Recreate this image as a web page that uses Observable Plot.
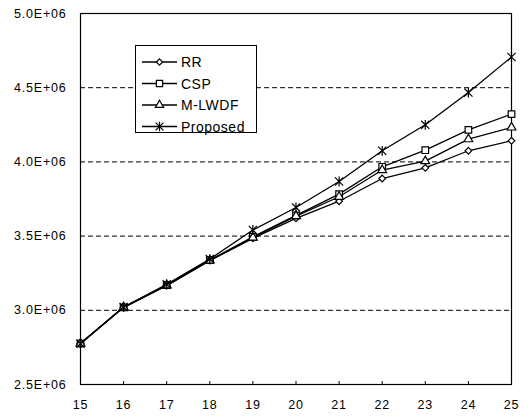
<!DOCTYPE html>
<html>
<head>
<meta charset="utf-8">
<script src="https://cdn.jsdelivr.net/npm/d3@7"></script>
<script src="https://cdn.jsdelivr.net/npm/@observablehq/plot@0.6"></script>
<style>
  html, body { margin: 0; padding: 0; background: #fff; }
  #wrap { position: relative; width: 530px; height: 417px; }
  #legend { position: absolute; left: 135px; top: 45px; width: 122px; height: 88px;
            border: 1px solid #000; background: #fff; box-sizing: border-box; }
</style>
</head>
<body>
<div id="wrap"><div id="legend"></div></div>
<script>
// ---- data ----
const xValues = [15, 16, 17, 18, 19, 20, 21, 22, 23, 24, 25];
const seriesNames = ["RR", "CSP", "M-LWDF", "Proposed"];
const rrValues       = [2.776e6, 3.020e6, 3.166e6, 3.335e6, 3.485e6, 3.620e6, 3.735e6, 3.888e6, 3.960e6, 4.075e6, 4.142e6];
const cspValues      = [2.776e6, 3.020e6, 3.170e6, 3.338e6, 3.495e6, 3.640e6, 3.783e6, 3.967e6, 4.079e6, 4.216e6, 4.322e6];
const mlwdfValues    = [2.776e6, 3.020e6, 3.168e6, 3.336e6, 3.490e6, 3.635e6, 3.765e6, 3.945e6, 4.005e6, 4.153e6, 4.232e6];
const proposedValues = [2.776e6, 3.022e6, 3.175e6, 3.345e6, 3.541e6, 3.693e6, 3.868e6, 4.075e6, 4.250e6, 4.467e6, 4.707e6];
const yTicks = [2.5e6, 3.0e6, 3.5e6, 4.0e6, 4.5e6, 5.0e6];
const gridValues = [3.0e6, 3.5e6, 4.0e6, 4.5e6];

// ---- symbols ----
const starSymbol = {
  draw(ctx, size) {
    const r = Math.sqrt(size) / 2;
    ctx.moveTo(-r, -r); ctx.lineTo(r, r);
    ctx.moveTo(r, -r); ctx.lineTo(-r, r);
    ctx.moveTo(0, -r * 1.2); ctx.lineTo(0, r * 1.2);
  }
};
const symbolFor = {
  "RR": d3.symbolDiamond2,
  "CSP": d3.symbolSquare2,
  "M-LWDF": d3.symbolTriangle2,
  "Proposed": starSymbol
};
const rFor = {"RR": 3, "CSP": 4.2, "M-LWDF": 4.2, "Proposed": 4.6};

const allSeries = [rrValues, cspValues, mlwdfValues, proposedValues];
const data = [];
seriesNames.forEach((name, i) => {
  xValues.forEach((x, j) => data.push({series: name, x, y: allSeries[i][j]}));
});

const fmt = d => (d / 1e6).toFixed(1) + "E+06";
const font = "'Liberation Sans', Arial, sans-serif";

const marks = [
  Plot.ruleY(gridValues, {stroke: "#000", strokeWidth: 1, strokeDasharray: "5,3"}),
  Plot.frame({stroke: "#000", strokeWidth: 1.2}),
  Plot.axisY({ticks: yTicks, tickFormat: fmt, tickSize: 0, tickPadding: 14, fontSize: 12.5, anchor: "left", label: null}),
  Plot.axisX({ticks: xValues, tickFormat: d => String(d), tickSize: 0, tickPadding: 16, fontSize: 12.5, anchor: "bottom", label: null}),
  Plot.axisX({ticks: xValues, text: null, tickSize: 3, dy: -3, anchor: "bottom", label: null, strokeWidth: 1})
];
seriesNames.forEach(name => {
  const d = data.filter(p => p.series === name);
  marks.push(Plot.line(d, {x: "x", y: "y", stroke: "#000", strokeWidth: 1.3}));
  marks.push(Plot.dot(d, {x: "x", y: "y", symbol: symbolFor[name], r: rFor[name],
    stroke: "#000", strokeWidth: 1.2, fill: name === "Proposed" ? "none" : "#fff"}));
});

const chart = Plot.plot({
  width: 530,
  height: 417,
  marginLeft: 80,
  marginRight: 19,
  marginTop: 13,
  marginBottom: 33,
  style: {fontFamily: font, color: "#000", background: "#fff", letterSpacing: "0.8px", overflow: "visible"},
  x: {domain: [15, 25], label: null},
  y: {domain: [2.5e6, 5.0e6], label: null},
  marks
});
chart.style.position = "absolute";
chart.style.left = "0";
chart.style.top = "0";
document.getElementById("wrap").prepend(chart);

// ---- legend ----
const legend = d3.select("#legend").append("svg").attr("width", 120).attr("height", 86)
  .style("display", "block").style("overflow", "visible");
seriesNames.forEach((name, i) => {
  const g = legend.append("g").attr("transform", `translate(0,${16 + i * 21.5})`);
  g.append("line").attr("x1", 6).attr("x2", 41).attr("y1", 0).attr("y2", 0)
    .attr("stroke", "#000").attr("stroke-width", 1.3);
  const r = rFor[name];
  g.append("path").attr("transform", "translate(23.5,0)")
    .attr("d", d3.symbol(symbolFor[name], Math.PI * r * r * 0.9)())
    .attr("stroke", "#000").attr("stroke-width", 1.2)
    .attr("fill", name === "Proposed" ? "none" : "#fff");
  g.append("text").attr("x", 45).attr("y", 0).attr("dy", "0.36em")
    .attr("font-family", font)
    .attr("font-size", 14).attr("letter-spacing", "0.5px").text(name);
});
</script>
</body>
</html>
